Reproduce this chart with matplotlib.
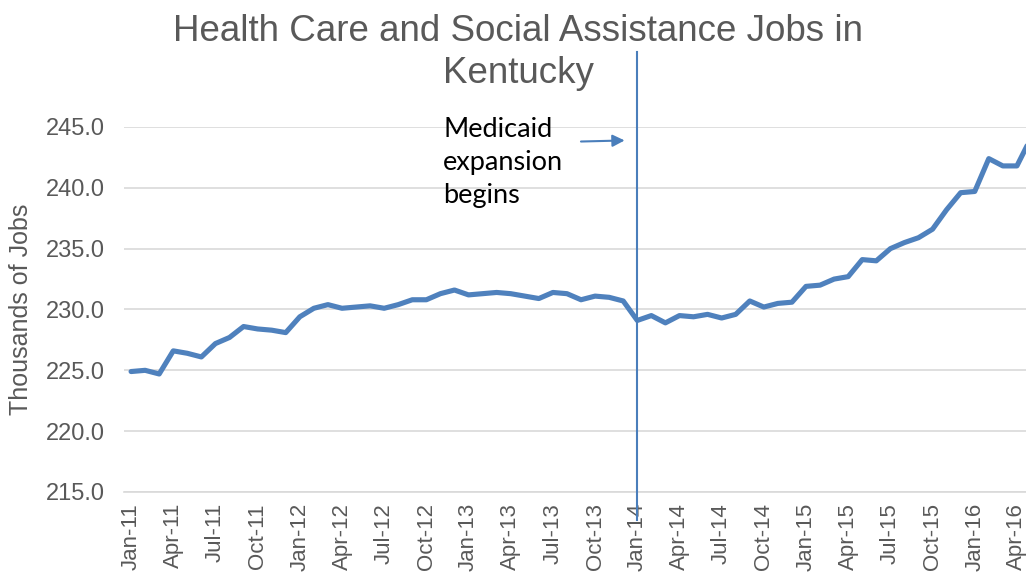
import matplotlib
matplotlib.use('Agg')
import matplotlib.pyplot as plt
import pandas as pd

# Kentucky health care & social assistance employment (thousands), monthly
months = pd.date_range('2011-01-01', '2016-05-01', freq='MS')
jobs = [
    224.9, 225.0, 224.7, 226.6, 226.4, 226.1, 227.2, 227.7, 228.6, 228.4, 228.3, 228.1,  # 2011
    229.4, 230.1, 230.4, 230.1, 230.2, 230.3, 230.1, 230.4, 230.8, 230.8, 231.3, 231.6,  # 2012
    231.2, 231.3, 231.4, 231.3, 231.1, 230.9, 231.4, 231.3, 230.8, 231.1, 231.0, 230.7,  # 2013
    229.1, 229.5, 228.9, 229.5, 229.4, 229.6, 229.3, 229.6, 230.7, 230.2, 230.5, 230.6,  # 2014
    231.9, 232.0, 232.5, 232.7, 234.1, 234.0, 235.0, 235.5, 235.9, 236.6, 238.2, 239.6,  # 2015
    239.7, 242.4, 241.8, 241.8, 244.1,                                                   # 2016
]
tick_labels = [m.strftime('%b-%y') for m in months]
expansion_month = '2014-01'
title = 'Health Care and Social Assistance Jobs in\nKentucky'
note = 'Medicaid\nexpansion\nbegins'

GREY = '#595959'
BLUE = '#4F81BD'

fig = plt.figure(figsize=(10.26, 5.78), dpi=100)
ax = fig.add_axes([0.1209, 0.1488, 0.8908, 0.6315])

x = list(range(len(jobs)))
ax.plot(x, jobs, color=BLUE, linewidth=3.7, solid_capstyle='round', solid_joinstyle='round', zorder=3)

ax.set_xlim(-0.5, len(jobs) - 0.5)
ax.set_ylim(215, 245)
ax.set_yticks(range(215, 246, 5))
ax.set_yticklabels([f'{v:.1f}' for v in range(215, 246, 5)])
ax.set_xticks(x[::3])
ax.set_xticklabels(tick_labels[::3], rotation=90)

ax.grid(axis='y', color='#D9D9D9', linewidth=1.2)
ax.set_axisbelow(True)
for s in ['top', 'right', 'left']:
    ax.spines[s].set_visible(False)
ax.spines['bottom'].set_color('#D9D9D9')
ax.spines['bottom'].set_linewidth(1.2)
ax.tick_params(length=0, colors=GREY)
ax.tick_params(axis='x', labelsize=16, pad=8)
ax.tick_params(axis='y', labelsize=17, pad=14)
for lbl in ax.get_xticklabels() + ax.get_yticklabels():
    lbl.set_family('Liberation Sans')

ax.set_ylabel('Thousands of Jobs', fontsize=18, color=GREY, family='Liberation Sans')
ax.yaxis.set_label_coords(-0.1, 0.5)

# vertical marker at start of Medicaid expansion
ix = tick_labels.index(pd.Timestamp(expansion_month).strftime('%b-%y'))
ax.axvline(ix, ymin=-0.077, ymax=1.205, color='#4A7EBB', linewidth=1.5, clip_on=False, zorder=4)

ax.annotate('', xy=(ix - 0.7, 243.9), xytext=(ix - 4.2, 243.8),
            arrowprops=dict(arrowstyle='-|>', color='#4A7EBB', lw=1.5, mutation_scale=18))
ax.text(ix - 13.8, 245.8, note, fontsize=19.5, family='Lato', color='black',
        va='top', ha='left', linespacing=1.4)

fig.text(0.505, 0.975, title, ha='center', va='top', fontsize=26.5, color=GREY,
         family='Liberation Sans', linespacing=1.25)

fig.savefig('out.png', dpi=100)
